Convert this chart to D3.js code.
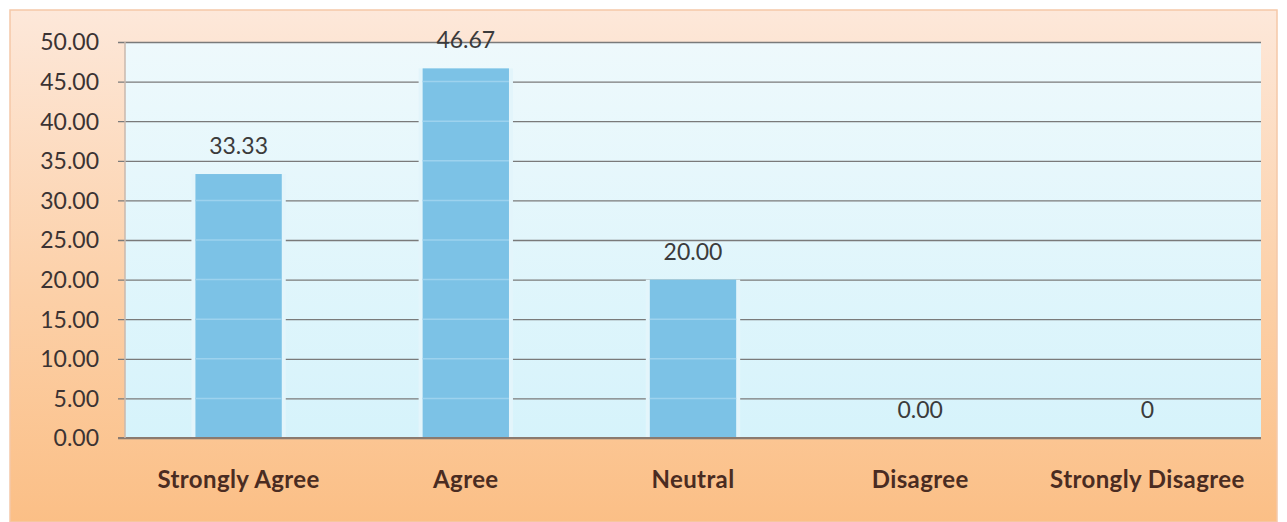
<!DOCTYPE html>
<html><head><meta charset="utf-8">
<script src="https://cdn.jsdelivr.net/npm/d3@7"></script>
<style>html,body{margin:0;padding:0;background:#fff;}svg{display:block;}</style>
</head><body><svg id="c" width="1287" height="522"></svg>
<script>
const categories = ["Strongly Agree","Agree","Neutral","Disagree","Strongly Disagree"];
const values = [33.33, 46.67, 20.00, 0.00, 0];
const valueLabels = ["33.33","46.67","20.00","0.00","0"];
const yTicks = [0,5,10,15,20,25,30,35,40,45,50];

const svg = d3.select("#c");
const W = 1287, H = 522;
const plot = {l:125, r:1261, t:42, b:438};

const defs = svg.append("defs");
const bg = defs.append("linearGradient").attr("id","bg").attr("x1",0).attr("y1",0).attr("x2",0).attr("y2",1);
bg.append("stop").attr("offset","0%").attr("stop-color","#fde8da");
bg.append("stop").attr("offset","55%").attr("stop-color","#fcd0a8");
bg.append("stop").attr("offset","100%").attr("stop-color","#fbbf86");
const pg = defs.append("linearGradient").attr("id","pg").attr("x1",0).attr("y1",0).attr("x2",0).attr("y2",1);
pg.append("stop").attr("offset","0%").attr("stop-color","#eef9fc");
pg.append("stop").attr("offset","100%").attr("stop-color","#d6f3fb");

svg.append("rect").attr("x",10).attr("y",10).attr("width",W-20).attr("height",H-10).attr("fill","url(#bg)");
svg.append("rect").attr("x",10).attr("y",10).attr("width",W-20).attr("height",H-10).attr("fill","none").attr("stroke","#f5c8a8").attr("stroke-width",1.5);

const x = d3.scaleBand().domain(categories).range([plot.l, plot.r]).paddingInner(0.62).paddingOuter(0.31);
const y = d3.scaleLinear().domain([0,50]).range([plot.b, plot.t]);

svg.append("rect").attr("x",plot.l).attr("y",plot.t).attr("width",plot.r-plot.l).attr("height",plot.b-plot.t).attr("fill","url(#pg)");

// gridlines + ticks
const yAxis = d3.axisLeft(y).tickValues(yTicks).tickFormat(d3.format(".2f")).tickSize(-(plot.r-plot.l)).tickPadding(26);
const ga = svg.append("g").attr("transform",`translate(${plot.l},0)`).call(yAxis);
ga.select(".domain").remove();
ga.selectAll(".tick line").attr("stroke","#7a7a7a").attr("stroke-width",1.3).attr("x1",-7);
ga.selectAll(".tick text").attr("fill","#3b3333").style("font-family","Lato, 'Open Sans', sans-serif").style("font-size","23px").attr("dy","0.34em");

// bottom axis line
svg.append("line").attr("x1",plot.l-7).attr("x2",plot.r).attr("y1",plot.b).attr("y2",plot.b).attr("stroke","#8a7a70").attr("stroke-width",2);
svg.append("line").attr("x1",plot.l).attr("x2",plot.l).attr("y1",plot.t).attr("y2",plot.b).attr("stroke","#c9b8ae").attr("stroke-width",1.5);

// halo around bars (gaps in gridlines)
svg.append("g").selectAll("rect").data(values.map((v,i)=>({v,c:categories[i]})).filter(d=>d.v>0)).join("rect")
  .attr("x",d=>x(d.c)-4).attr("width",x.bandwidth()+8)
  .attr("y",d=>y(d.v)).attr("height",d=>y(0)-y(d.v)-1).attr("fill","#e3f5fb");

// bars
svg.append("g").selectAll("rect").data(values).join("rect")
  .attr("x",(d,i)=>x(categories[i])).attr("width",x.bandwidth())
  .attr("y",d=>y(d)).attr("height",d=>y(0)-y(d)-1)
  .attr("fill","#7cc2e6");

// faint inner lines in bars at grid positions
const inner = [];
values.forEach((v,i)=>{ yTicks.filter(t=>t>0 && t<v).forEach(t=>inner.push({c:categories[i],t})); });
svg.append("g").selectAll("line").data(inner).join("line")
  .attr("x1",d=>x(d.c)).attr("x2",d=>x(d.c)+x.bandwidth())
  .attr("y1",d=>y(d.t)).attr("y2",d=>y(d.t)).attr("stroke","#9dd2ee").attr("stroke-width",1.5);

// value labels
svg.append("g").selectAll("text").data(values).join("text")
  .attr("x",(d,i)=>x(categories[i])+x.bandwidth()/2)
  .attr("y",d=>y(d)-20)
  .attr("text-anchor","middle").attr("fill","#3b3b3b")
  .style("font-family","Lato, 'Open Sans', sans-serif").style("font-size","23px")
  .text((d,i)=>valueLabels[i]);

// category labels
svg.append("g").selectAll("text").data(categories).join("text")
  .attr("x",d=>x(d)+x.bandwidth()/2).attr("y",488)
  .attr("text-anchor","middle").attr("fill","#4a2c22")
  .style("font-family","Lato, 'Open Sans', sans-serif").style("font-size","24px").style("font-weight","bold")
  .style("letter-spacing","0.4px")
  .text(d=>d);
</script></body></html>
